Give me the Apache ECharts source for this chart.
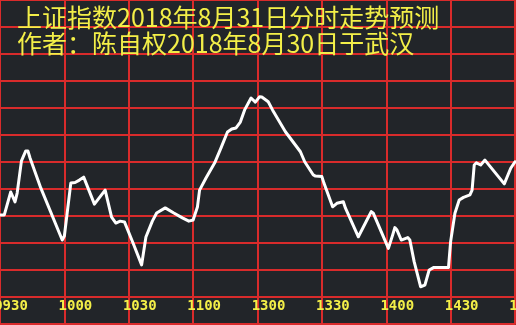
<!DOCTYPE html>
<html>
<head>
<meta charset="utf-8">
<script src="https://cdn.jsdelivr.net/npm/echarts@6/dist/echarts.min.js"></script>
<style>
html,body{margin:0;padding:0;background:#222529;}
#c{width:516px;height:325px;}
</style>
</head>
<body>
<div id="c"></div>
<script>
var titleLine1 = '上证指数2018年8月31日分时走势预测';
var titleLine2 = '作者：陈自权2018年8月30日于武汉';
var tickLabels = ['0930','1000','1030','1100','1300','1330','1400','1430','1500'];
// trading minutes since 09:30 (0..240)
var minutes = [0,2,5,7,8,10,12,13,14,19,29,30,33,35,37,39,44,49,52,54,56,58,62,66,68,71,73,77,81,85,88,90,92,93,96,100,103,106,108,110,112,114,117,119,121,122,125,127,133,140,142,146,147,150,151,155,157,160,161,167,171,173,174,181,183,184,185,187,190,191,193,196,198,200,202,209,210,212,214,216,219,220,221,222,224,226,235,238,240];
var values = [2690.4,2690.4,2698.9,2695.2,2698.5,2710.4,2714.1,2714.1,2711.5,2700.4,2681.1,2682.6,2702.2,2702.4,2703.3,2704.4,2694.4,2699.6,2689.6,2687.4,2688.1,2687.8,2680.0,2671.9,2682.2,2688.1,2691.1,2693.0,2691.1,2689.3,2688.1,2688.5,2693.3,2699.6,2704.1,2709.6,2715.2,2721.1,2722.2,2722.6,2724.8,2729.3,2733.7,2732.2,2734.2,2734.1,2732.3,2729.3,2721.2,2713.8,2710.1,2705.2,2704.8,2704.6,2702.1,2693.4,2694.7,2695.3,2692.9,2682.3,2688.5,2691.6,2691.0,2678.0,2683.0,2685.7,2684.8,2681.1,2682.0,2681.1,2673.1,2663.8,2664.4,2670.0,2670.9,2670.9,2680.5,2691.0,2695.9,2696.9,2697.8,2699.6,2708.9,2709.7,2708.9,2710.7,2701.9,2707.7,2710.1];
var yMin = 2650, yMax = 2770, yStep = 10;
var xMax = 240, xStep = 30;

var seriesData = minutes.map(function (m, i) { return [m, values[i]]; });
var gridRed = '#d92b2b';
var yellow = '#f3ef48';

var chart = echarts.init(document.getElementById('c'), null, {renderer: 'canvas'});
chart.setOption({
  animation: false,
  backgroundColor: '#222529',
  title: {
    text: titleLine1 + '\n' + titleLine2,
    left: 17, top: 4, padding: 0,
    textStyle: {
      color: yellow, fontSize: 25, lineHeight: 26, fontWeight: 'normal',
      fontFamily: '"Noto Sans CJK SC", sans-serif'
    }
  },
  grid: {left: 0, right: 1, top: 0, bottom: 1, containLabel: false, outerBoundsMode: 'none'},
  xAxis: {
    type: 'value', min: 0, max: xMax, interval: xStep,
    axisLine: {show: true, lineStyle: {color: gridRed, width: 2}},
    axisTick: {show: false},
    splitLine: {show: true, lineStyle: {color: gridRed, width: 2}},
    axisLabel: {
      inside: true, margin: 18, verticalAlign: 'middle', align: 'center',
      padding: [0, 0, 0, 22],
      showMinLabel: true, showMaxLabel: true, hideOverlap: false,
      color: yellow, fontSize: 14, fontWeight: 'bold',
      fontFamily: '"DejaVu Sans Mono", monospace',
      formatter: function (v) { return tickLabels[Math.round(v / xStep)]; }
    }
  },
  yAxis: {
    type: 'value', min: yMin, max: yMax, interval: yStep,
    axisLine: {show: false}, axisTick: {show: false}, axisLabel: {show: false},
    splitLine: {show: true, lineStyle: {color: gridRed, width: 2}}
  },
  series: [{
    type: 'line', data: seriesData, symbol: 'none',
    lineStyle: {color: '#ffffff', width: 3, join: 'round', cap: 'round'},
    z: 5
  }]
});
</script>
</body>
</html>
